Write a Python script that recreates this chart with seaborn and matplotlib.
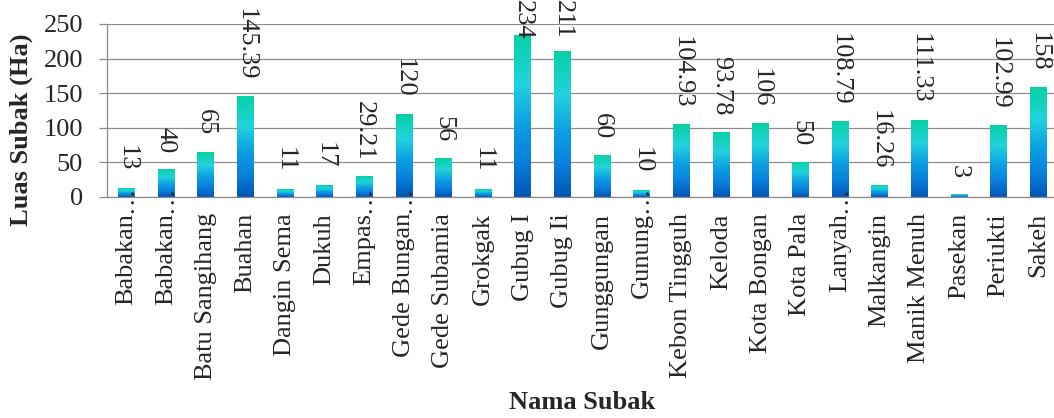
import numpy as np
import pandas as pd
import matplotlib
matplotlib.use("Agg")
import matplotlib.pyplot as plt
import seaborn as sns
from matplotlib.colors import LinearSegmentedColormap

categories = ["Babakan…", "Babakan…", "Batu Sangihang", "Buahan", "Dangin Sema",
              "Dukuh", "Empas…", "Gede Bungan…", "Gede Subamia", "Grokgak",
              "Gubug I", "Gubug Ii", "Gunggungan", "Gunung…", "Kebon Tingguh",
              "Keloda", "Kota Bongan", "Kota Pala", "Lanyah…", "Malkangin",
              "Manik Menuh", "Pasekan", "Periukti", "Sakeh"]
values = [13, 40, 65, 145.39, 11, 17, 29.21, 120, 56, 11, 234, 211, 60, 10,
          104.93, 93.78, 106, 50, 108.79, 16.26, 111.33, 3, 102.99, 158]
value_labels = ["13", "40", "65", "145.39", "11", "17", "29.21", "120", "56", "11",
                "234", "211", "60", "10", "104.93", "93.78", "106", "50", "108.79",
                "16.26", "111.33", "3", "102.99", "158"]
y_ticks = [0, 50, 100, 150, 200, 250]

sns.set_style("white")
plt.rcParams["font.family"] = ["Liberation Serif", "DejaVu Serif"]
FS = 19
GRAY = "#8c8c8c"

W, H = 1054, 418
fig = plt.figure(figsize=(W / 100, H / 100), dpi=100)
l, r, t, b = 106.5, 1058, 24, 196.5
ax = fig.add_axes([l / W, 1 - b / H, (r - l) / W, (b - t) / H])

df = pd.DataFrame({"pos": list(range(len(categories))), "val": values})
sns.barplot(data=df, x="pos", y="val", color="#0a86e2", width=0.42, ax=ax,
            saturation=1, zorder=2)

cmap = LinearSegmentedColormap.from_list(
    "grad", [(0.0, "#0056b4"), (0.22, "#0a7fdc"), (0.45, "#0c9fe2"),
             (0.70, "#22d2de"), (1.0, "#06d2a4")])
grad = np.linspace(0, 1, 256).reshape(-1, 1)
for p in list(ax.patches):
    x0, w, h = p.get_x(), p.get_width(), p.get_height()
    im = ax.imshow(grad, extent=[x0, x0 + w, 0, h], origin="lower",
                   aspect="auto", cmap=cmap, zorder=2, interpolation="bilinear")
    im.set_clip_path(p)
    p.set_facecolor("none")
    p.set_edgecolor("none")

n = len(categories)
ax.set_xlim(-0.5, n - 0.5)
ax.set_ylim(0, 250)
ax.set_aspect("auto")
ax.set_yticks(y_ticks)
ax.set_yticklabels([str(v) for v in y_ticks], fontsize=FS)

short = [c[:-1] if c.endswith("…") else c for c in categories]
ax.set_xticks(range(n))
ax.set_xticklabels(short, rotation=90, fontsize=FS)
ax.set_xticks(np.arange(-0.5, n, 1), minor=True)
ax.tick_params(axis="x", which="major", length=0, pad=12)
ax.tick_params(axis="x", which="minor", length=5, width=0.9, color=GRAY)
ax.tick_params(axis="y", which="major", length=6, width=0.9, color=GRAY, pad=11,
               left=True)

ax.yaxis.grid(True, color=GRAY, linewidth=0.9, zorder=0)
ax.set_axisbelow(True)
for s in ["top", "right"]:
    ax.spines[s].set_visible(False)
for s in ["left", "bottom"]:
    ax.spines[s].set_color(GRAY)
    ax.spines[s].set_linewidth(0.9)

for i, c in enumerate(categories):
    if c.endswith("…"):
        ax.annotate("…", xy=(i, 0), xycoords=("data", "axes fraction"),
                    xytext=(0, -12), textcoords="offset points", rotation=90,
                    ha="center", va="bottom", fontsize=FS, zorder=5,
                    annotation_clip=False)

anns = []
for i, (v, lab) in enumerate(zip(values, value_labels)):
    a = ax.annotate(lab, xy=(i, v), xytext=(0, 11.5), textcoords="offset points",
                    rotation=270, ha="center", va="bottom", fontsize=FS,
                    zorder=6, annotation_clip=False)
    anns.append(a)

ax.set_ylabel("Luas Subak (Ha)", fontsize=FS, fontweight="bold")
ax.yaxis.set_label_coords(-0.0772, 0.3855)
ax.set_xlabel("Nama Subak", fontsize=FS, fontweight="bold")
ax.xaxis.set_label_coords(0.5, -1.128)

fig.canvas.draw()
rend = fig.canvas.get_renderer()
for a in anns:
    bb = a.get_window_extent(rend)
    if bb.y1 > H:
        excess = bb.y1 - H
        a.xyann = (0, 11.5 - excess * 72 / fig.dpi)

fig.savefig("out.png", dpi=100)
